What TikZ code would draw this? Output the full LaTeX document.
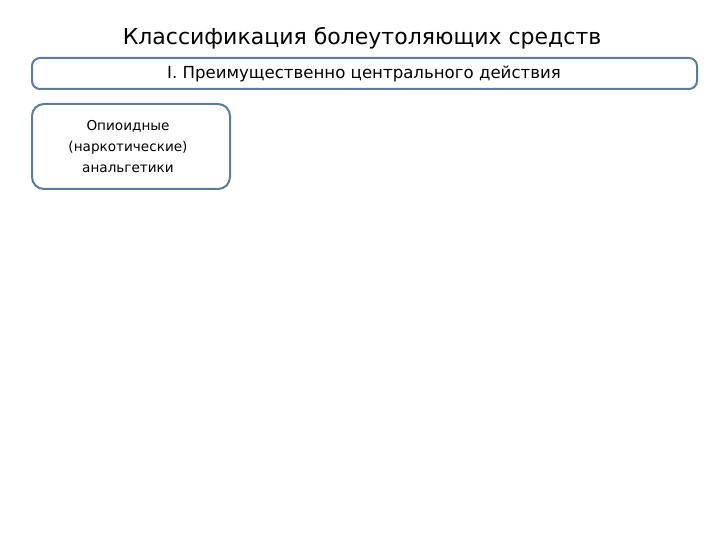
\documentclass[tikz,border=0pt]{standalone}
\usepackage{fontspec}
\setmainfont{DejaVu Sans}
\definecolor{boxline}{HTML}{5B7C9C}
\begin{document}
\begin{tikzpicture}[x=1pt,y=-1pt,
  boxstyle/.style={draw=boxline,line width=2pt,rounded corners=8pt,fill=white},
  txt/.style={inner sep=0pt,align=center}]
\useasboundingbox[fill=white] (0,0) rectangle (720,540);
\node[txt,font=\fontsize{22}{26}\selectfont] (title) at (362,38) {Классификация болеутоляющих средств};
\draw[boxstyle] (32,58) rectangle (697,89);
\node[txt,font=\fontsize{16.6}{19}\selectfont] (sub) at (364,74) {I. Преимущественно центрального действия};
\draw[boxstyle,rounded corners=12pt] (32,104) rectangle (230,189);
\node[txt,font=\fontsize{13.6}{21}\selectfont] (op) at (128,147) {Опиоидные\\(наркотические)\\анальгетики};
\end{tikzpicture}
\end{document}
